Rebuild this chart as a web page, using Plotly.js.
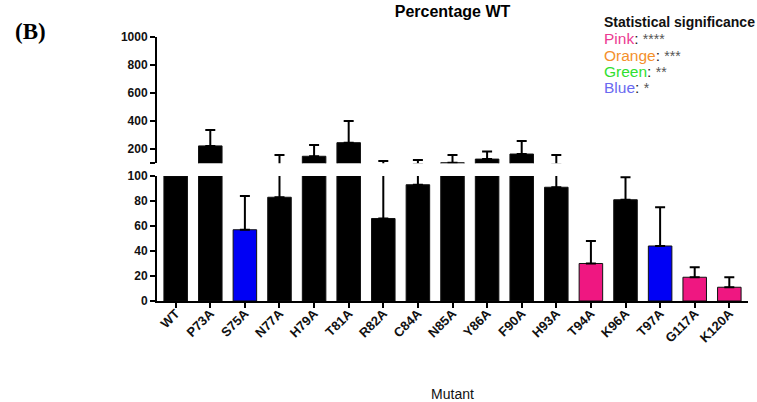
<!DOCTYPE html>
<html>
<head>
<meta charset="utf-8">
<script src="https://cdn.plot.ly/plotly-3.0.1.min.js"></script>
<style>html,body{margin:0;padding:0;background:#fff;}#chart{width:757px;height:402px;}</style>
</head>
<body>
<div id="chart"></div>
<script>
// Data
const mutants = ['WT','P73A','S75A','N77A','H79A','T81A','R82A','C84A','N85A','Y86A','F90A','H93A','T94A','K96A','T97A','G117A','K120A'];
const percentWT = [100, 224, 57, 83, 150, 247, 66, 93, 104, 130, 166, 91, 30, 81, 44, 19, 11];
const errUp = [null, 114, 27, 76, 80, 155, 50, 31, 55, 54, 93, 68, 18, 18, 31, 8, 8];
const significance = ['ns','ns','blue','ns','ns','ns','ns','ns','ns','ns','ns','ns','pink','ns','blue','pink','pink'];
const lowerTicks = [0, 20, 40, 60, 80, 100];
const upperTicks = [100, 200, 400, 600, 800, 1000];
const upperTickText = ['', '200', '400', '600', '800', '1000'];
const sigLabels = ['Pink', 'Orange', 'Green', 'Blue'];
const sigStars = ['****', '***', '**', '*'];

const BREAK = 100; // axis break value
const barFill = {ns: '#000000', pink: '#ef1781', blue: '#0000f5'};
const labelColors = {Pink: '#ec3a92', Orange: '#f4902c', Green: '#2fe02f', Blue: '#6a6af0'};
const colors = significance.map(s => barFill[s]);
// missing error -> NaN so no error bar is drawn
const errLower = errUp.map(e => e === null ? NaN : e);
// Upper segment only shows bars / error bars that actually pass the break
const errUpper = errUp.map((e, i) => (e !== null && percentWT[i] + e > BREAK) ? e : NaN);
const minusOf = errs => errs.map(e => isNaN(e) ? NaN : 0);
const colorsUpper = percentWT.map((v, i) => v > BREAK ? colors[i] : 'rgba(0,0,0,0)');
const lineUpper = percentWT.map(v => v > BREAK ? 1 : 0);

const FONT = 'Arial, "Liberation Sans", Helvetica, sans-serif';

function barTrace(yaxis, errs, fills, lineW) {
  return {
    type: 'bar', x: mutants, y: percentWT, yaxis: yaxis, xaxis: 'x',
    marker: {color: fills, line: {color: '#111', width: lineW}},
    error_y: {type: 'data', symmetric: false, array: errs, arrayminus: minusOf(errs),
              color: '#000', thickness: 2, width: 5},
    showlegend: false, hoverinfo: 'skip'
  };
}

const annotations = [
  {text: '<b>(B)</b>', xref: 'paper', yref: 'paper', x: -0.2132, y: 1.0227,
   xanchor: 'center', yanchor: 'middle', showarrow: false,
   font: {family: '"Liberation Serif", "Times New Roman", serif', size: 23, color: '#000'}},
  {text: '<b>Statistical significance</b>', xref: 'paper', yref: 'paper', x: 0.7530, y: 1.0568,
   xanchor: 'left', yanchor: 'middle', showarrow: false,
   font: {family: FONT, size: 14, color: '#111'}}
];
const legendY = [0.9943, 0.9318, 0.8693, 0.8087];
sigLabels.forEach((lab, i) => {
  annotations.push({
    text: '<span style="color:' + labelColors[lab] + '">' + lab + '</span>: <span style="color:#555;font-size:14px">' + sigStars[i] + '</span>',
    xref: 'paper', yref: 'paper', x: 0.7530, y: legendY[i],
    xanchor: 'left', yanchor: 'middle', showarrow: false,
    font: {family: FONT, size: 15.5, color: '#222'}
  });
});

const layout = {
  width: 757, height: 402,
  margin: {l: 157, r: 9, t: 37, b: 101},
  paper_bgcolor: '#fff', plot_bgcolor: '#fff',
  bargap: 0.32,
  font: {family: FONT, color: '#000'},
  title: {text: '<b>Percentage WT</b>', font: {family: FONT, size: 16, color: '#000'},
          x: 0.5, xref: 'paper', xanchor: 'center', y: 0.9726, yref: 'container', yanchor: 'middle'},
  xaxis: {
    range: [-0.54, 16.54], anchor: 'y', showline: true, linewidth: 2, linecolor: '#000',
    ticks: 'outside', ticklen: 5, tickwidth: 2, tickcolor: '#000', tickangle: -45, ticklabelstandoff: -7,
    tickfont: {family: FONT, size: 13, color: '#111', weight: 'bold'},
    showgrid: false, zeroline: false, automargin: false,
    title: {text: 'Mutant', font: {family: FONT, size: 14, color: '#111'}, standoff: 47}
  },
  yaxis: {
    domain: [0, 0.4735], range: [0, 100], tickmode: 'array', tickvals: lowerTicks,
    showline: true, linewidth: 2, linecolor: '#000', ticks: 'outside', ticklen: 5, tickwidth: 2, tickcolor: '#000',
    tickfont: {family: FONT, size: 12, color: '#111', weight: 'bold'},
    showgrid: false, zeroline: false, automargin: false
  },
  yaxis2: {
    domain: [0.5216, 1], range: [100, 1000], anchor: 'x', tickmode: 'array', tickvals: upperTicks, ticktext: upperTickText,
    showline: true, linewidth: 2, linecolor: '#000', ticks: 'outside', ticklen: 5, tickwidth: 2, tickcolor: '#000',
    tickfont: {family: FONT, size: 12, color: '#111', weight: 'bold'},
    showgrid: false, zeroline: false, automargin: false
  },
  annotations: annotations
};

Plotly.newPlot('chart', [barTrace('y', errLower, colors, 1), barTrace('y2', errUpper, colorsUpper, lineUpper)], layout, {displayModeBar: false, staticPlot: true});
</script>
</body>
</html>
